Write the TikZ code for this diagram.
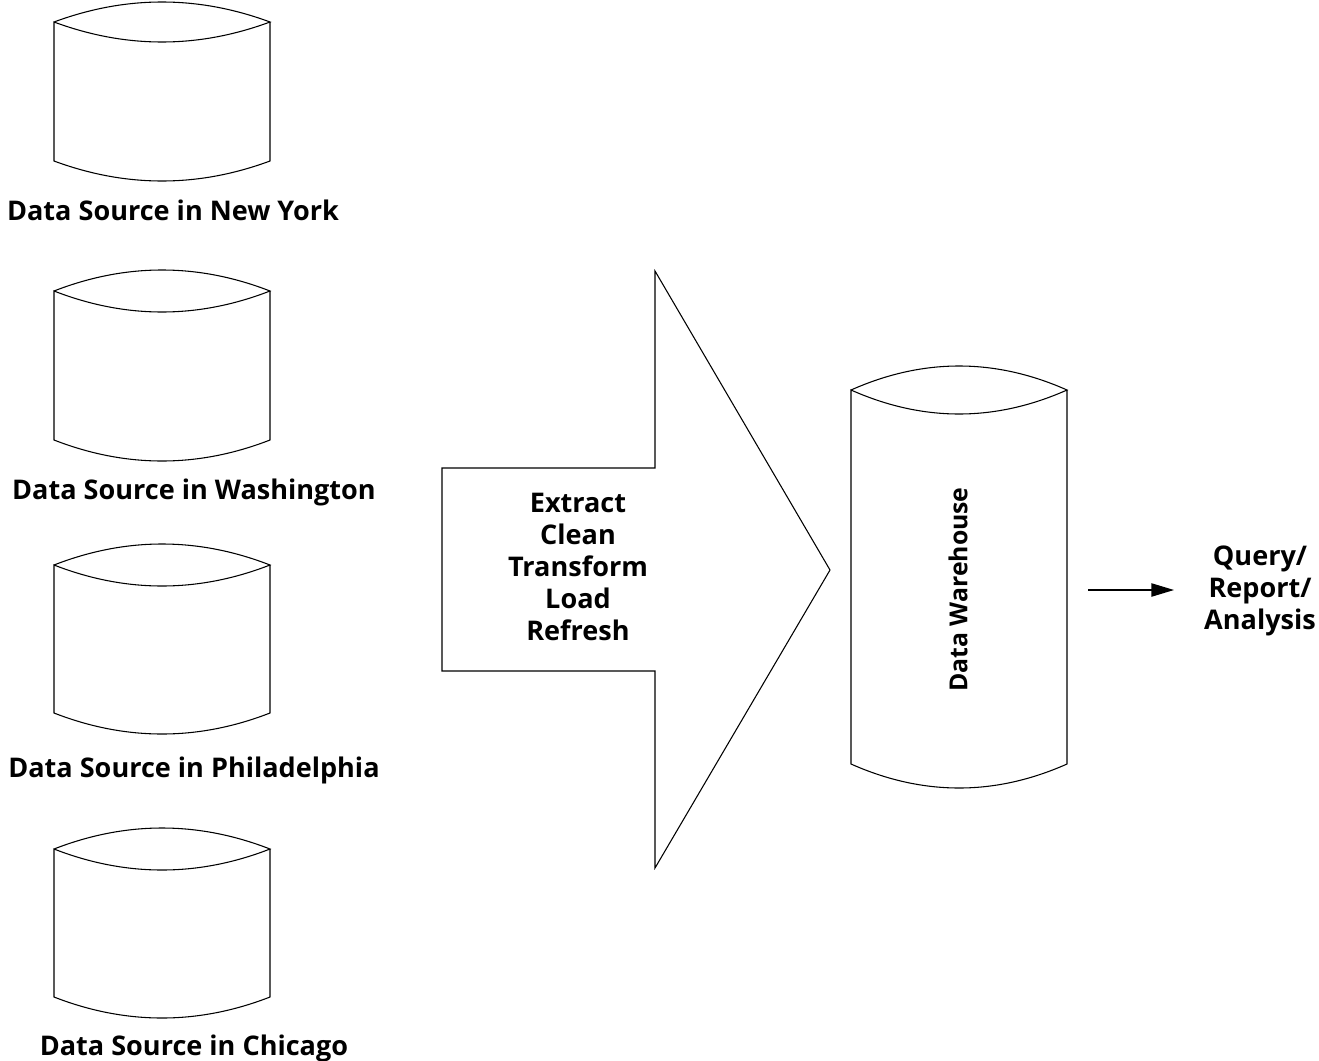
\documentclass[tikz,border=0pt]{standalone}
\usepackage{fontspec}
\setmainfont{Open Sans}[BoldFont={Open Sans Bold}]
\usetikzlibrary{arrows.meta}
\newcommand{\cyl}[5]{% x0, x1, peak-to-corner dy, corner top y, corner bottom y
  \draw[shapeline] (#1,#4) .. controls ({#1+(#2-#1)/3},{#4-#3*4/3}) and ({#2-(#2-#1)/3},{#4-#3*4/3}) .. (#2,#4)
    .. controls ({#2-(#2-#1)/3},{#4+#3*4/3}) and ({#1+(#2-#1)/3},{#4+#3*4/3}) .. (#1,#4) -- (#1,#5)
    .. controls ({#1+(#2-#1)/3},{#5+#3*4/3}) and ({#2-(#2-#1)/3},{#5+#3*4/3}) .. (#2,#5) -- (#2,#4);
}
\tikzset{
  shapeline/.style={draw=black,line width=0.8pt,line join=miter},
  lab/.style={font=\bfseries\fontsize{20.3}{24}\selectfont,text=black,inner sep=0pt,align=center,anchor=center},
  sidelab/.style={lab,font=\bfseries\fontsize{18.6}{24}\selectfont,rotate=90},
  flow/.style={-{Triangle[length=17pt,width=10pt]},line width=1pt}
}
\begin{document}
\begin{tikzpicture}[x=0.75pt,y=-0.75pt]
\useasboundingbox (0,0) rectangle (1319,1060);
\cyl{54}{270}{20}{22}{161}
\cyl{54}{270}{21}{291}{440}
\cyl{54}{270}{21}{565}{713}
\cyl{54}{270}{21}{849}{997}
\cyl{851}{1067}{24}{390}{764}
\draw[shapeline] (442,468) -- (655,468) -- (655,271) -- (830,570) -- (655,868) -- (655,671) -- (442,671) -- cycle;
\node[lab,anchor=base] (ny) at (173,220) {Data Source in New York};
\node[lab,anchor=base] (wa) at (194,499) {Data Source in Washington};
\node[lab,anchor=base] (ph) at (194,777) {Data Source in Philadelphia};
\node[lab,anchor=base] (ch) at (194,1055) {Data Source in Chicago};
\node[lab] (etl) at (578,567) {Extract\\[-0.1pt]Clean\\[-0.1pt]Transform\\[-0.1pt]Load\\[-0.1pt]Refresh};
\node[sidelab] (dw) at (958,589.5) {Data Warehouse};
\node[lab] (qra) at (1260,591) {Query/\\[-0.1pt]Report/\\[-0.1pt]Analysis};
\coordinate (from) at (1088,590);
\coordinate (to) at (1174,590);
\draw[flow] (from) -- (to);
\end{tikzpicture}
\end{document}
